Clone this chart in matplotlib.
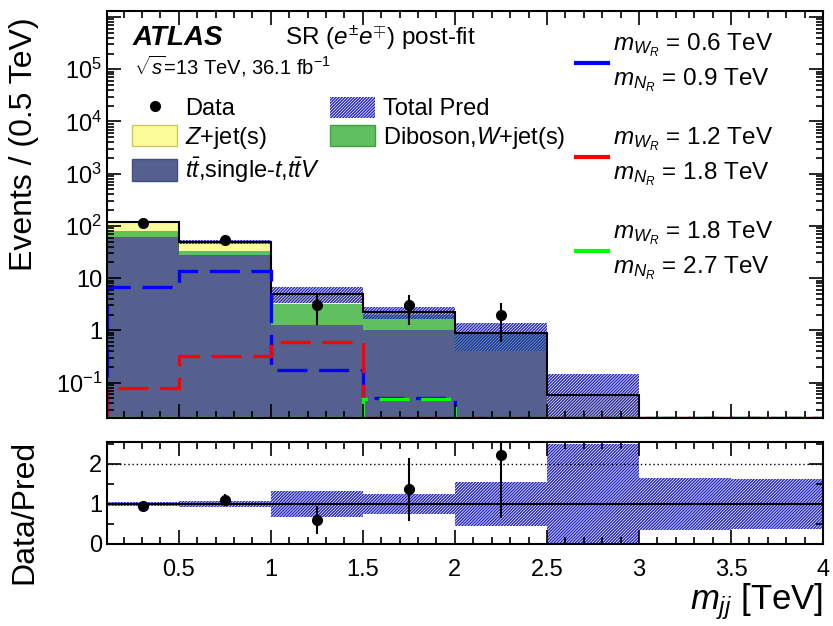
import matplotlib
matplotlib.use('Agg')
import matplotlib.pyplot as plt
import numpy as np
from matplotlib.patches import Patch
from matplotlib.lines import Line2D
from matplotlib.ticker import LogLocator, FuncFormatter, MultipleLocator, NullFormatter

plt.rcParams['font.family'] = ['Liberation Sans', 'DejaVu Sans']
plt.rcParams['mathtext.fontset'] = 'custom'
plt.rcParams['mathtext.rm'] = 'Liberation Sans'
plt.rcParams['mathtext.it'] = 'Liberation Sans:italic'
plt.rcParams['mathtext.bf'] = 'Liberation Sans:bold'
plt.rcParams['hatch.linewidth'] = 1.05

# bin edges in TeV
edges = np.array([0.11, 0.5, 1.0, 1.5, 2.0, 2.5, 3.0, 3.5, 4.0])

# backgrounds (events / 0.5 TeV)
ttbar = np.array([62.0, 28.0, 1.28, 1.03, 0.40, 0.0, 0.0, 0.0])
diboson = np.array([19.0, 5.8, 1.95, 0.96, 0.45, 0.0, 0.003, 0.003])
zjets = np.array([39.0, 15.0, 1.77, 0.21, 0.05, 0.059, 0.005, 0.005])
rel_unc = np.array([0.05, 0.08, 0.33, 0.26, 0.55, 1.5, 0.66, 0.62])

data = np.array([114.0, 54.0, 3.0, 3.0, 2.0, 0.0, 0.0, 0.0])

# signals
sig_06_09 = np.array([6.9, 14.0, 0.177, 0.05, 0.0, 0.0, 0.0, 0.0])
sig_12_18 = np.array([0.079, 0.33, 0.59, 0.0, 0.0, 0.0, 0.0, 0.0])
sig_18_27 = np.array([0.0, 0.0, 0.0, 0.049, 0.0, 0.0, 0.0, 0.0])

c_tt = '#56608e'
c_dib = '#60c060'
c_z = '#fbfb9a'
c_hatch = '#2a2ac4'
hatch = '/' * 11

ylo, yhi = 0.021, 1.3e6

fig = plt.figure(figsize=(8.33, 6.26), dpi=100)
ax = fig.add_axes([0.1285, 0.3323, 0.8595, 0.650])
axr = fig.add_axes([0.1285, 0.131, 0.8595, 0.163])

floor = 1e-4
s1 = ttbar
s2 = ttbar + diboson
total = ttbar + diboson + zjets

ax.stairs(np.maximum(s1, floor), edges, baseline=floor, fill=True, color=c_tt, lw=0)
ax.stairs(np.maximum(s2, floor), edges, baseline=np.maximum(s1, floor), fill=True, color=c_dib, lw=0)
ax.stairs(np.maximum(total, floor), edges, baseline=np.maximum(s2, floor), fill=True, color=c_z, lw=0)

# total prediction band
lo = np.maximum(total * (1 - rel_unc), floor)
hi = total * (1 + rel_unc)
ax.stairs(hi, edges, baseline=lo, fill=True, facecolor='none', edgecolor=c_hatch, hatch=hatch, lw=0)
ax.stairs(np.maximum(total, ylo), edges, color='black', lw=1.5)

# signals
for vals, col in [(sig_06_09, 'blue'), (sig_12_18, 'red'), (sig_18_27, '#00ff00')]:
    ax.stairs(np.maximum(vals, ylo * 1.02), edges, color=col, lw=2.4, linestyle=(0, (9, 3.5)))

centers = 0.5 * (edges[1:] + edges[:-1])
m = data > 0
ax.errorbar(centers[m], data[m], yerr=np.sqrt(data[m]), fmt='o', color='black', markersize=7,
            elinewidth=1.5, capsize=0)

ax.set_xlim(edges[0], edges[-1])
ax.set_yscale('log')
ax.set_ylim(ylo, yhi)


def fmt_log(v, pos):
    n = int(round(np.log10(v)))
    if n == 0:
        return '1'
    if n == 1:
        return '10'
    if n > 5:
        return ''
    return r'$10^{%d}$' % n


ax.yaxis.set_major_locator(LogLocator(base=10, numticks=20))
ax.yaxis.set_minor_locator(LogLocator(base=10, subs=np.arange(2, 10), numticks=100))
ax.yaxis.set_major_formatter(FuncFormatter(fmt_log))
ax.yaxis.set_minor_formatter(NullFormatter())
ax.xaxis.set_major_locator(MultipleLocator(0.5))
ax.xaxis.set_minor_locator(MultipleLocator(0.1))
ax.set_xticklabels([])
ax.set_ylabel('Events / (0.5 TeV)', fontsize=23, loc='top')
ax.yaxis.set_label_coords(-0.095, 0.985)

# ratio panel
pred = np.where(total > 0, total, 1)
axr.stairs(1 + rel_unc, edges, baseline=1 - rel_unc, fill=True, facecolor='none',
           edgecolor=c_hatch, hatch=hatch, lw=0)
axr.axhline(1, color='black', lw=1.5)
axr.axhline(2, color='black', lw=1, linestyle=(0, (1, 2)))
ratio = data / pred
ratio_err = np.sqrt(data) / pred
axr.errorbar(centers[m], ratio[m], yerr=ratio_err[m], fmt='o', color='black', markersize=7,
             elinewidth=1.5, capsize=0)
axr.set_xlim(edges[0], edges[-1])
axr.set_ylim(0, 2.55)
axr.yaxis.set_major_locator(MultipleLocator(1))
axr.yaxis.set_minor_locator(MultipleLocator(0.5))
axr.xaxis.set_major_locator(MultipleLocator(0.5))
axr.xaxis.set_minor_locator(MultipleLocator(0.1))
axr.xaxis.set_major_formatter(FuncFormatter(lambda v, p: '%g' % v))
axr.set_ylabel('Data/Pred', fontsize=23)
axr.yaxis.set_label_coords(-0.095, 0.31)
axr.set_xlabel(r'$m_{jj}$ [TeV]', fontsize=25, loc='right')
axr.xaxis.set_label_coords(1.0, -0.36)

for a in (ax, axr):
    a.tick_params(which='both', direction='in', top=True, right=True, labelsize=17, width=1.2)
    a.tick_params(which='major', length=10)
    a.tick_params(which='minor', length=5)
    for sp in a.spines.values():
        sp.set_linewidth(1.5)
axr.tick_params(axis='x', pad=11)

# labels
ax.text(0.036, 0.935, 'ATLAS', transform=ax.transAxes, fontsize=20, fontweight='bold',
        style='italic', va='center')
ax.text(0.2486, 0.935, r'SR ($e^{\pm}e^{\mp}$) post-fit', transform=ax.transAxes, fontsize=17.5,
        va='center')
ax.text(0.038, 0.865, r'$\sqrt{s}$=13 TeV, 36.1 fb$^{-1}$', transform=ax.transAxes, fontsize=14.5,
        va='center')

handles = [Line2D([], [], marker='o', color='black', ls='none', markersize=7),
           Patch(facecolor=c_z, edgecolor='#c8c860'),
           Patch(facecolor=c_tt, edgecolor='#40507a'),
           Patch(facecolor='none', edgecolor=c_hatch, hatch=hatch, lw=0),
           Patch(facecolor=c_dib, edgecolor='#40a040')]
labels = ['Data', r'$Z$+jet(s)', r'$t\bar{t}$,single-$t$,$t\bar{t}V$', 'Total Pred',
          r'Diboson,$W$+jet(s)']
ax.legend(handles, labels, ncol=2, loc='upper left', bbox_to_anchor=(0.035, 0.79), frameon=False,
          fontsize=17, handlelength=1.9, handleheight=1.0, labelspacing=0.2, columnspacing=0.4,
          handletextpad=0.35, borderaxespad=0, borderpad=0)

# signal legend
sig_entries = [('blue', '0.6', '0.9', 0.873), ('red', '1.2', '1.8', 0.642), ('#00ff00', '1.8', '2.7', 0.411)]
for col, mw, mn, yc in sig_entries:
    ax.plot([0.655, 0.700], [yc, yc], color=col, lw=3, transform=ax.transAxes)
    ax.text(0.707, yc + 0.042, r'$m_{W_R}$ = %s TeV' % mw, transform=ax.transAxes, fontsize=17.5,
            va='center')
    ax.text(0.707, yc - 0.044, r'$m_{N_R}$ = %s TeV' % mn, transform=ax.transAxes, fontsize=17.5,
            va='center')

fig.savefig('out.png', dpi=100)
